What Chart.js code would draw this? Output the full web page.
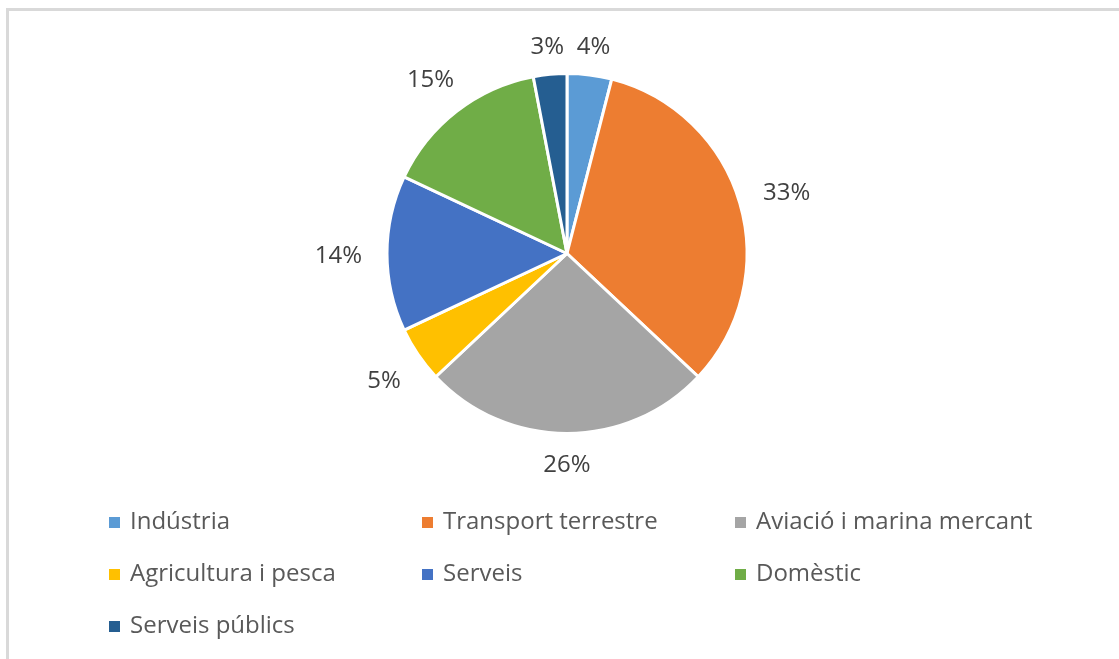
<!DOCTYPE html>
<html>
<head>
<meta charset="utf-8">
<script src="https://cdn.jsdelivr.net/npm/chart.js@4.4.0/dist/chart.umd.min.js"></script>
<style>
  html, body { margin: 0; padding: 0; background: #fff; overflow: hidden; }
  #wrap { width: 1119px; height: 659px; }
</style>
</head>
<body>
<div id="wrap"><canvas id="pie" width="1119" height="659"></canvas></div>
<script>
const sectors = ['Indústria', 'Transport terrestre', 'Aviació i marina mercant', 'Agricultura i pesca', 'Serveis', 'Domèstic', 'Serveis públics'];
const shares = [4, 33, 26, 5, 14, 15, 3];
const sectorColors = ['#5B9BD5', '#ED7D31', '#A5A5A5', '#FFC000', '#4472C4', '#70AD47', '#255E91'];

const FONT = '"Open Sans", sans-serif';

// light grey frame around the chart area
const frame = {
    id: 'frame',
    beforeDraw(chart) {
        const ctx = chart.ctx;
        ctx.save();
        ctx.fillStyle = '#fff';
        ctx.fillRect(0, 0, chart.width, chart.height);
        ctx.strokeStyle = '#d9d9d9';
        ctx.lineWidth = 3;
        ctx.strokeRect(7.5, 9.5, chart.width + 10, chart.height + 10);
        ctx.restore();
    }
};

// percentage labels outside each slice
const pctLabels = {
    id: 'pctLabels',
    afterDatasetsDraw(chart) {
        const ctx = chart.ctx;
        const meta = chart.getDatasetMeta(0);
        const values = chart.data.datasets[0].data;
        ctx.save();
        ctx.font = '24px ' + FONT;
        ctx.fillStyle = '#404040';
        ctx.textAlign = 'center';
        ctx.textBaseline = 'middle';
        meta.data.forEach((arc, i) => {
            const p = arc.getProps(['x', 'y', 'startAngle', 'endAngle', 'outerRadius'], true);
            const mid = (p.startAngle + p.endAngle) / 2;
            const text = values[i] + '%';
            const w = ctx.measureText(text).width;
            const h = 8;
            const c = Math.cos(mid), s = Math.sin(mid);
            const d = p.outerRadius + 25 + Math.abs(c) * w / 2 + Math.abs(s) * h / 2;
            ctx.fillText(text, p.x + c * d, p.y + s * d + 3);
        });
        ctx.restore();
    }
};

// three-column legend below the pie
const legendGrid = {
    id: 'legendGrid',
    afterDraw(chart) {
        const ctx = chart.ctx;
        const cols = [109, 422, 735];
        const firstRow = 522, rowGap = 52;
        const colors = chart.data.datasets[0].backgroundColor;
        ctx.save();
        ctx.font = '24px ' + FONT;
        ctx.textAlign = 'left';
        ctx.textBaseline = 'middle';
        chart.data.labels.forEach((label, i) => {
            const x = cols[i % 3];
            const y = firstRow + Math.floor(i / 3) * rowGap;
            ctx.fillStyle = colors[i];
            ctx.fillRect(x, y - 5, 11, 11);
            ctx.fillStyle = '#595959';
            ctx.fillText(label, x + 21, y);
        });
        ctx.restore();
    }
};

new Chart(document.getElementById('pie'), {
    type: 'pie',
    data: {
        labels: sectors,
        datasets: [{
            data: shares,
            backgroundColor: sectorColors,
            borderColor: '#fff',
            borderWidth: 3
        }]
    },
    options: {
        responsive: false,
        animation: false,
        devicePixelRatio: 1,
        layout: { padding: { top: 72, bottom: 224, left: 15, right: 0 } },
        plugins: {
            legend: { display: false },
            tooltip: { enabled: false }
        }
    },
    plugins: [frame, pctLabels, legendGrid]
});
</script>
</body>
</html>
